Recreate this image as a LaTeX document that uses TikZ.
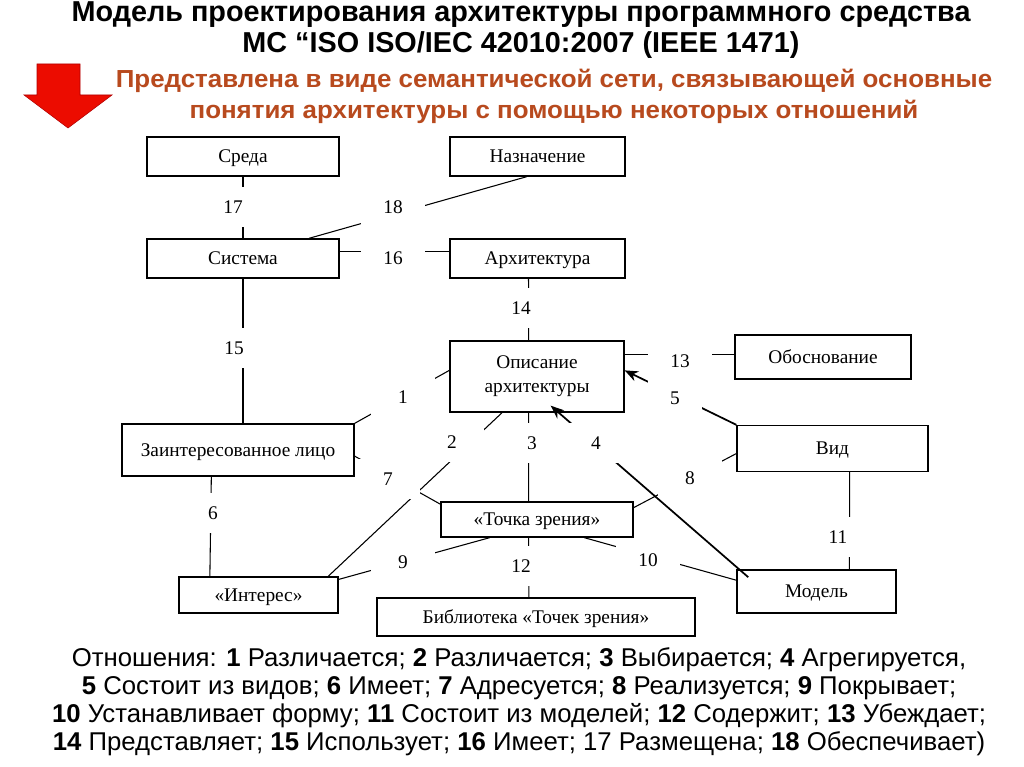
\documentclass[tikz,border=0pt]{standalone}
\usepackage{fontspec}
\setmainfont{Liberation Serif}
\newfontfamily\headfont{Liberation Sans}
\newfontfamily\subfont[FakeStretch=1.05]{Liberation Sans}
\usetikzlibrary{arrows.meta}
\definecolor{subred}{RGB}{184,74,30}
\definecolor{bigred}{RGB}{236,12,0}

\begin{document}
\begin{tikzpicture}[x=0.75pt, y=-0.75pt,
    >={Stealth[length=10pt,width=8pt]},
    box/.style={
      % The shape:
      rectangle, draw, line width=1pt, inner sep=0pt,
      % The text
      font=\fontsize{14.5}{18}\selectfont, align=center},
    line/.style={text height=11.5pt, text depth=2pt},
    num/.style={fill=white, inner sep=0pt, minimum width=48pt, minimum height=30pt,
      font=\fontsize{14.5}{18}\selectfont},
    rel/.style={line width=0.8pt},
    arr/.style={line width=1.3pt}]
    \useasboundingbox[fill=white] (0,0) rectangle (1024,767);
    % heading
    \node (title) [anchor=base, align=center,
      font=\headfont\bfseries\fontsize{21.6}{23.25}\selectfont] at (521,53)
      {Модель проектирования архитектуры программного средства\\
       МС “ISO ISO/IEC 42010:2007 (IEEE 1471)};
    \node (sub) [anchor=base, align=center, text=subred,
      font=\subfont\bfseries\fontsize{18.5}{23.25}\selectfont] at (554,118)
      {Представлена в виде семантической сети, связывающей основные\\
       понятия архитектуры с помощью некоторых отношений};
    \fill[bigred, draw=red!70!black] (37,64) -- (80,64) -- (80,95) -- (112,95)
      -- (68,128) -- (24,95) -- (37,95) -- cycle;
    % concepts
    \node (sreda)[box, line, minimum width=144pt, minimum height=29.25pt] at (243,156.5) {Среда};
    \node (nazn)[box, line, minimum width=131.25pt, minimum height=29.25pt] at (537.5,156.5) {Назначение};
    \node (sys)[box, line, minimum width=144pt, minimum height=29.25pt] at (243,258.5) {Система};
    \node (arch)[box, line, minimum width=131.25pt, minimum height=29.25pt] at (537.5,258.5) {Архитектура};
    \node (opis)[box, minimum width=130.5pt, minimum height=53.25pt] at (537,376.5) {Описание\\архитектуры};
    \node (obosn)[box, line, minimum width=132pt, minimum height=33pt] at (823,357) {Обоснование};
    \node (vid)[box, line, minimum width=143.25pt, minimum height=34.5pt] at (832.5,448.5) {Вид};
    \node (zl)[box, line, minimum width=174pt, minimum height=39pt] at (238,450) {Заинтересованное лицо};
    \node (tochka)[box, line, minimum width=144pt, minimum height=26.25pt] at (537,519.5) {«Точка зрения»};
    \node (interes)[box, line, minimum width=119.25pt, minimum height=27pt] at (258.5,595) {«Интерес»};
    \node (bibl)[box, line, minimum width=238.5pt, minimum height=28.5pt] at (536,617) {Библиотека «Точек зрения»};
    \node (model)[box, line, minimum width=119.25pt, minimum height=32.25pt] at (816.5,591.5) {Модель};
    % relations
    \path (zl.north east) edge[rel] (opis.176);
    \path (opis.226) edge[rel] (interes.15);
    \path (opis.257) edge[rel] (tochka.115);
    \path (model.164) edge[arr, ->, shorten >=-8pt, shorten <=-9pt] (opis.301);
    \path (opis.4) edge[arr, <-] (vid.north west);
    \path (zl.225) edge[rel] (interes.159);
    \path (zl.357) edge[rel] (tochka.171);
    \path (vid.183) edge[rel] (tochka.7);
    \path (interes.11) edge[rel] (tochka.201);
    \path (tochka.339) edge[rel] (model.172);
    \path (vid.306) edge[rel] (model.34);
    \path (tochka.245) edge[rel] (bibl.110);
    \path (opis.14) edge[rel] (opis.14 -| obosn.west);
    \path (arch.246) edge[rel] (opis.103);
    \path (sys) edge[rel] (sys |- zl.north);
    \path (sys.4) edge[rel] (sys.4 -| arch.west);
    \path (sreda) edge[rel] (sys);
    \path (nazn.242) edge[rel] (sys.17);
    % numbers of the relations
    \node (n1)[num] at (403,397) {1};
    \node (n2)[num] at (452,442) {2};
    \node (n3)[num] at (532,443) {3};
    \node (n4)[num] at (596,443) {4};
    \node (n5)[num, minimum width=40pt] at (675,398) {5};
    \node (n6)[num] at (213,513) {6};
    \node (n7)[num] at (388,479) {7};
    \node (n8)[num] at (690,478) {8};
    \node (n9)[num] at (403,562) {9};
    \node (n10)[num] at (648,560) {10};
    \node (n11)[num] at (838,537) {11};
    \node (n12)[num] at (521,566) {12};
    \node (n13)[num] at (680,361) {13};
    \node (n14)[num] at (521,308) {14};
    \node (n15)[num] at (234,348) {15};
    \node (n16)[num] at (393,258) {16};
    \node (n17)[num] at (233,207) {17};
    \node (n18)[num] at (393,207) {18};
    % legend
    \node (legend) [anchor=base, align=center,
      font=\headfont\fontsize{19.3}{21}\selectfont] at (519,750)
      {Отношения: \textbf{1} Различается; \textbf{2} Различается; \textbf{3} Выбирается; \textbf{4} Агрегируется,\\
       \textbf{5} Состоит из видов; \textbf{6} Имеет; \textbf{7} Адресуется; \textbf{8} Реализуется; \textbf{9} Покрывает;\\
       \textbf{10} Устанавливает форму; \textbf{11} Состоит из моделей; \textbf{12} Содержит; \textbf{13} Убеждает;\\
       \textbf{14} Представляет; \textbf{15} Использует; \textbf{16} Имеет; 17 Размещена; \textbf{18} Обеспечивает)};
  \end{tikzpicture}
\end{document}
